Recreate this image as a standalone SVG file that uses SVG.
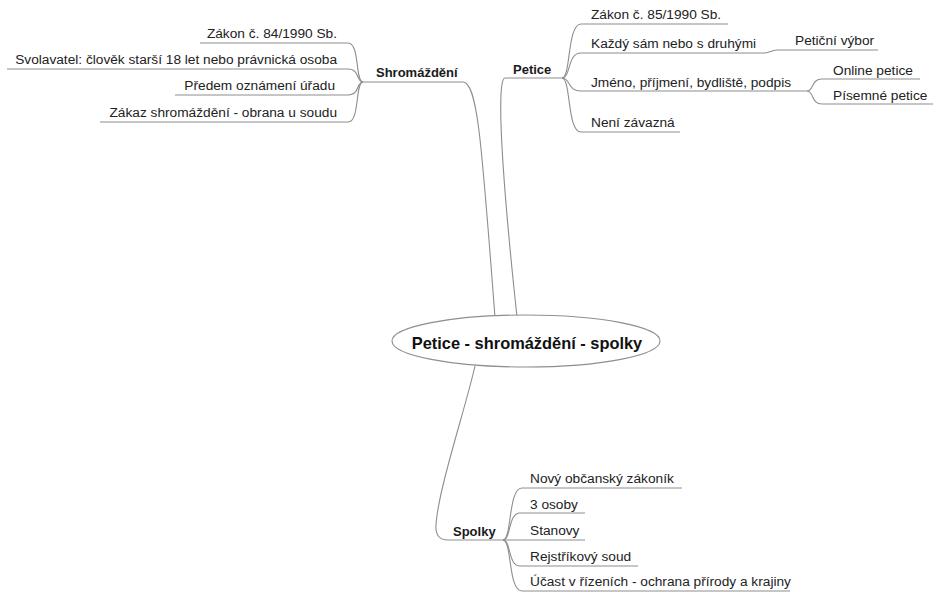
<svg xmlns="http://www.w3.org/2000/svg" width="940" height="592" viewBox="0 0 940 592">
<style>
.ln{fill:none;stroke:#8e8e8e;stroke-width:1.1}
.t{font-family:"Liberation Sans",Arial,sans-serif;font-size:13.7px;fill:#222}
.b{font-family:"Liberation Sans",Arial,sans-serif;font-size:13px;font-weight:bold;fill:#1a1a1a}
.c{font-family:"Liberation Sans",Arial,sans-serif;font-size:16.4px;font-weight:bold;fill:#111}
.e{text-anchor:end}
</style>
<rect width="940" height="592" fill="#fff"/>
<g id="connectors">
<path class="ln" d="M363 82 L463 82 C478 82 482 150 495 317"/>
<path class="ln" d="M562 78 L505 78 C498 78 498 140 517 317"/>
<path class="ln" d="M475 366 C465 410 438 490 436 525 Q435 540 448 540 L503 540"/>
<path class="ln" d="M363 82 C355 82 360 43 348 43 L200 43"/>
<path class="ln" d="M363 82 C356 82 360 69 348 69 L7 69"/>
<path class="ln" d="M363 82 C356 82 360 95 348 95 L175 95"/>
<path class="ln" d="M363 82 C355 82 360 122 348 122 L100 122"/>
<path class="ln" d="M562 78 C571 78 567 24 581 24 L728 24"/>
<path class="ln" d="M562 78 C571 78 567 53 581 53 L765 53 C770 53 771 50 777 50 L878 50"/>
<path class="ln" d="M562 78 C571 78 567 91 581 91 L807 91"/>
<path class="ln" d="M562 78 C571 78 567 132 581 132 L680 132"/>
<path class="ln" d="M807 91 C814 91 811 79 822 79 L920 79"/>
<path class="ln" d="M807 91 C814 91 811 104 822 104 L933 104"/>
<path class="ln" d="M503 540 C512 540 508 488 522 488 L682 488"/>
<path class="ln" d="M503 540 C511 540 508 513 520 513 L585 513"/>
<path class="ln" d="M503 540 L585 540"/>
<path class="ln" d="M503 540 C511 540 508 566 520 566 L638 566"/>
<path class="ln" d="M503 540 C512 540 508 591 522 591 L790 591"/>
</g>
<g id="center">
<ellipse cx="526" cy="341" rx="134" ry="26" fill="#fff" stroke="#8e8e8e" stroke-width="1.1"/>
<text class="c" x="527" y="349" text-anchor="middle">Petice - shromáždění - spolky</text>
</g>
<g id="shromazdeni"><text class="b" x="376" y="77">Shromáždění</text></g>
<g id="s1"><text class="t e" x="337" y="38">Zákon č. 84/1990 Sb.</text></g>
<g id="s2"><text class="t e" x="337" y="64">Svolavatel: člověk starší 18 let nebo právnická osoba</text></g>
<g id="s3"><text class="t e" x="335" y="90">Předem oznámení úřadu</text></g>
<g id="s4"><text class="t e" x="337" y="117">Zákaz shromáždění - obrana u soudu</text></g>
<g id="petice"><text class="b" x="513" y="74">Petice</text></g>
<g id="p1"><text class="t" x="591" y="19">Zákon č. 85/1990 Sb.</text></g>
<g id="p2"><text class="t" x="591" y="48">Každý sám nebo s druhými</text></g>
<g id="p2a"><text class="t" x="795" y="45">Petiční výbor</text></g>
<g id="p3"><text class="t" x="591" y="87">Jméno, příjmení, bydliště, podpis</text></g>
<g id="p3a"><text class="t" x="833" y="75">Online petice</text></g>
<g id="p3b"><text class="t" x="833" y="100">Písemné petice</text></g>
<g id="p4"><text class="t" x="591" y="127">Není závazná</text></g>
<g id="spolky"><text class="b" x="453" y="536">Spolky</text></g>
<g id="k1"><text class="t" x="530" y="483">Nový občanský zákoník</text></g>
<g id="k2"><text class="t" x="530" y="509">3 osoby</text></g>
<g id="k3"><text class="t" x="530" y="535">Stanovy</text></g>
<g id="k4"><text class="t" x="530" y="561">Rejstříkový soud</text></g>
<g id="k5"><text class="t" x="530" y="586">Účast v řízeních - ochrana přírody a krajiny</text></g>
</svg>
